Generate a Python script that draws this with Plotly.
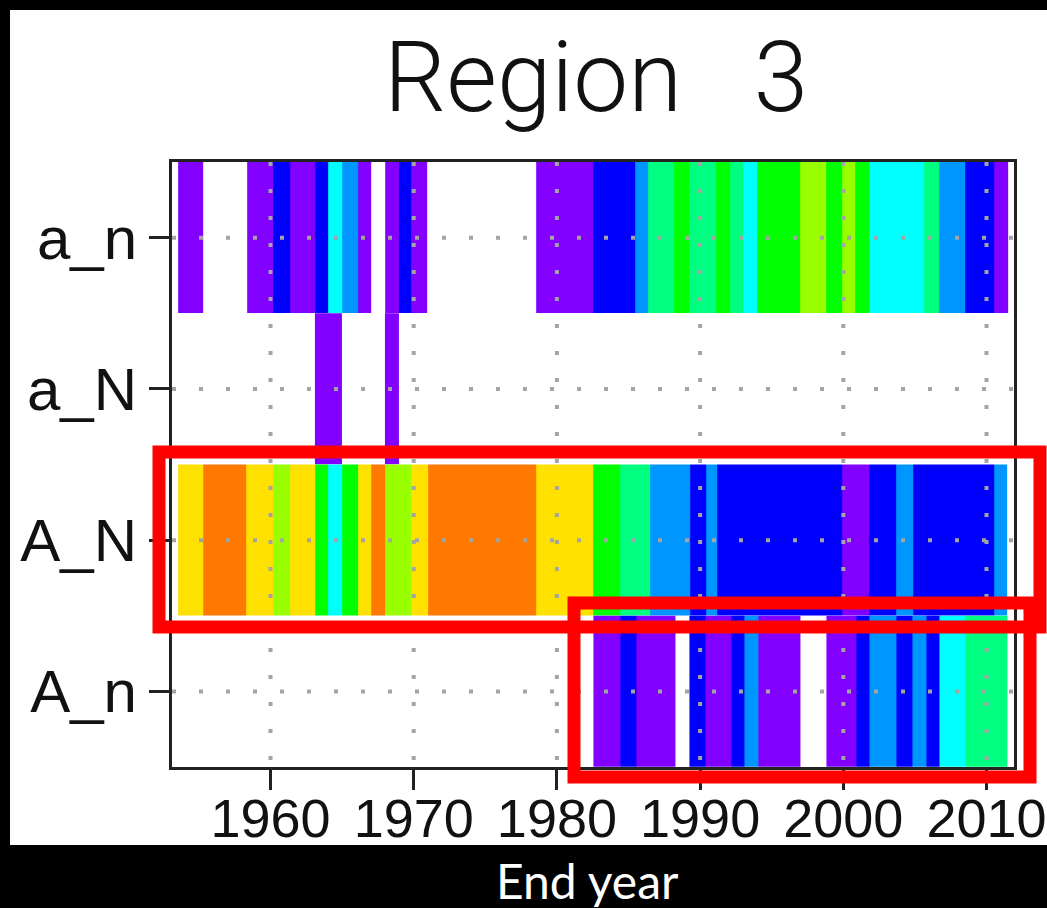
import plotly.graph_objects as go

# ---------------- data ----------------
row_labels = ["a_n", "a_N", "A_N", "A_n"]
x_tick_years = [1960, 1970, 1980, 1990, 2000, 2010]

# colour classes of the rainbow palette
palette = ["#8200ff", "#0000ff", "#0096ff", "#00ffff", "#00ff80",
           "#00ff00", "#99ff00", "#ffe100", "#ff7800"]
P, B, LB, C, SG, G, YG, Y, O = range(9)
N = None  # no value (white)

an_edges = [1953.55, 1955.3, 1958.35, 1960.15, 1961.35, 1963.15, 1964.05, 1965.0,
            1966.15, 1967.05, 1968.0, 1969.0, 1969.85, 1970.95, 1978.55, 1982.5,
            1985.45, 1986.35, 1988.2, 1989.25, 1991.15, 1992.1, 1993.0, 1993.95,
            1997.0, 1998.8, 1999.9, 2000.85, 2001.8, 2005.65, 2006.7, 2008.5,
            2010.5, 2011.5]
an_levels = [P, N, P, B, P, B, C, LB, P, N, P, B, P, N, P, B, LB, SG, G, SG, G,
             SG, C, G, YG, G, YG, G, C, SG, LB, B, P]

aN_edges = [1963.1, 1965.0, 1968.0, 1969.0]
aN_levels = [P, N, P]

AN_edges = [1953.55, 1955.3, 1958.3, 1960.15, 1961.35, 1963.15, 1964.05, 1965.0,
            1966.15, 1967.05, 1968.0, 1969.85, 1971.0, 1978.55, 1982.5, 1984.4,
            1986.5, 1989.3, 1990.4, 1991.2, 1999.95, 2001.8, 2003.7, 2004.85,
            2010.5, 2011.45]
AN_levels = [Y, O, Y, YG, Y, G, C, G, Y, O, YG, Y, O, Y, G, SG, LB, B, LB, B, P,
             B, LB, B, LB]

An_edges = [1982.55, 1984.45, 1985.55, 1988.25, 1989.25, 1990.4, 1992.2, 1993.1,
            1994.1, 1997.0, 1998.85, 2000.9, 2001.85, 2003.7, 2004.8, 2005.8,
            2006.7, 2008.5, 2011.45]
An_levels = [P, B, P, N, B, P, B, LB, P, N, P, B, LB, B, LB, B, C, SG]

row_edges = [an_edges, aN_edges, AN_edges, An_edges]
row_levels = [an_levels, aN_levels, AN_levels, An_levels]

# ---------------- figure ----------------
W, H = 1047, 908
L, R, T, Bm = 172, 33, 162, 141
pw, ph = W - L - R, H - T - Bm


def px(x):
    return (x - L) / pw


def py(y):
    return (H - Bm - y) / ph


n = len(palette)
colorscale = []
for k, c in enumerate(palette):
    colorscale.append([k / n, c])
    colorscale.append([(k + 1) / n, c])

fig = go.Figure()
for i, (edges, levels) in enumerate(zip(row_edges, row_levels)):
    fig.add_trace(go.Heatmap(
        x=edges, y=[i - 0.5, i + 0.5], z=[levels],
        zmin=-0.5, zmax=n - 0.5, colorscale=colorscale,
        showscale=False, hoverinfo="skip"))

xr = [1953.12, 2011.92]
yr = [len(row_labels) - 0.5, -0.5]

grid_style = dict(color="#a4a4a4", width=4, dash="4px,23px")
for t in x_tick_years:
    fig.add_trace(go.Scatter(x=[t, t], y=[yr[1], yr[0]], mode="lines",
                             line=grid_style, hoverinfo="skip", showlegend=False))
for i in range(len(row_labels)):
    fig.add_trace(go.Scatter(x=xr, y=[i, i], mode="lines",
                             line=grid_style, hoverinfo="skip", showlegend=False))

shapes = [
    # white panel on the black page
    dict(type="rect", xref="paper", yref="paper", x0=px(10), x1=px(1060),
         y0=py(845), y1=py(10), fillcolor="white", line_width=0, layer="below"),
    # red highlight frames
    dict(type="rect", xref="paper", yref="paper", x0=px(159), x1=px(1040),
         y0=py(627), y1=py(452), line=dict(color="#ff0000", width=13), layer="above"),
    dict(type="rect", xref="paper", yref="paper", x0=px(574), x1=px(1030),
         y0=py(777), y1=py(603), line=dict(color="#ff0000", width=13), layer="above"),
]

annotations = [
    dict(text="Region\u00a0\u00a0\u00a03", xref="paper", yref="paper", x=px(596), y=py(77),
         xanchor="center", yanchor="middle", showarrow=False,
         font=dict(family="Roboto, Liberation Sans", size=98, color="#111", weight=300)),
    dict(text="End year", xref="paper", yref="paper", x=px(587), y=py(880),
         xanchor="center", yanchor="middle", showarrow=False,
         font=dict(family="Lato, Open Sans", size=48, color="white")),
]

fig.update_layout(
    width=W, height=H,
    margin=dict(l=L, r=R, t=T, b=Bm, pad=0, autoexpand=False),
    paper_bgcolor="black", plot_bgcolor="white",
    showlegend=False, shapes=shapes, annotations=annotations,
    xaxis=dict(range=xr, tickvals=x_tick_years, ticks="outside", ticklen=20,
               tickwidth=3, tickcolor="#222", showline=True, linewidth=3,
               linecolor="#222", mirror=True, showgrid=False, zeroline=False,
               ticklabeloverflow="allow", automargin=False, ticklabelstandoff=-18,
               tickfont=dict(family="Liberation Sans", size=54, color="#111")),
    yaxis=dict(range=yr, tickvals=list(range(len(row_labels))), ticktext=row_labels,
               ticks="outside", ticklen=20, tickwidth=3, tickcolor="#222",
               showline=True, linewidth=3, linecolor="#222", mirror=True,
               showgrid=False, zeroline=False, automargin=False,
               tickfont=dict(family="Liberation Sans", size=60, color="#111")),
)

fig.write_html("out.html")
